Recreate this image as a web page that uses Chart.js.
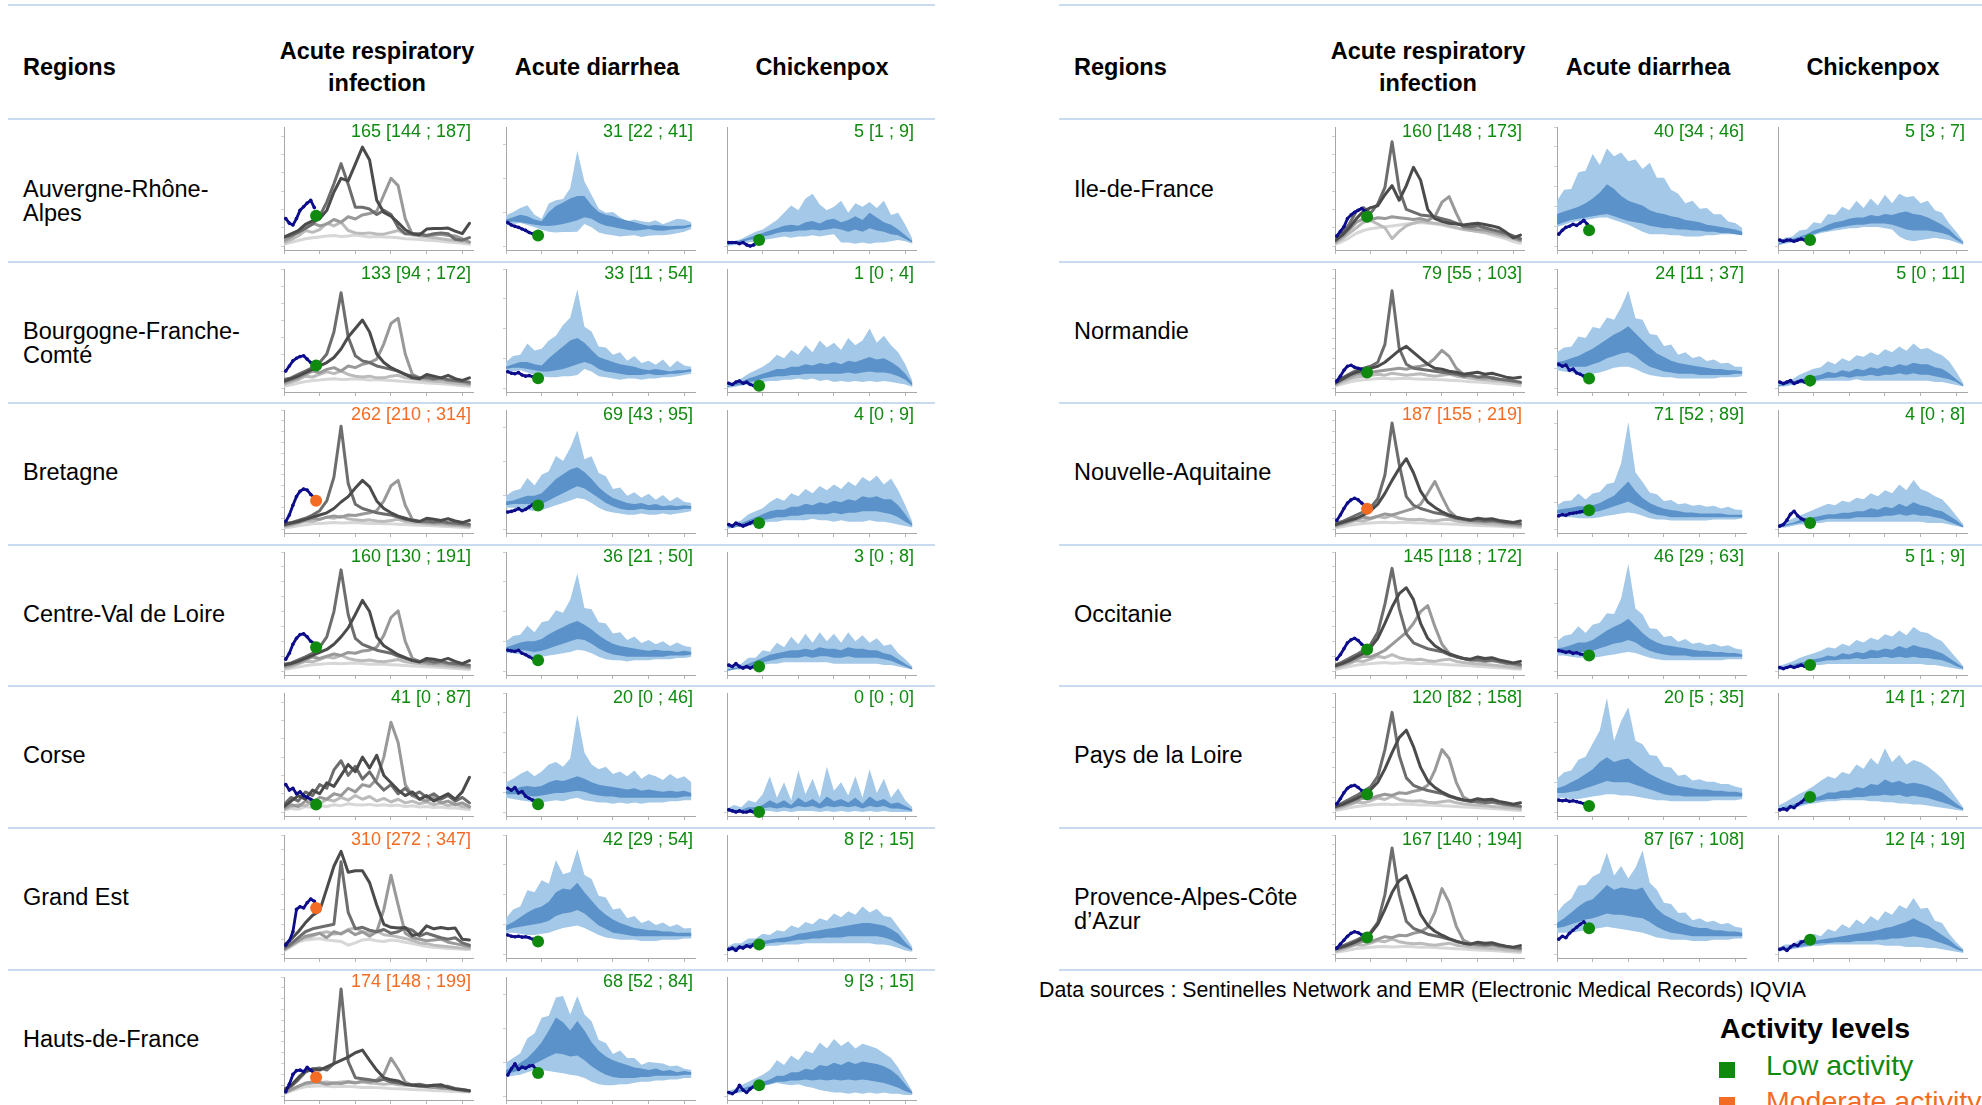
<!DOCTYPE html>
<html>
<head>
<meta charset="utf-8">
<script src="https://cdn.jsdelivr.net/npm/chart.js@4.4.1/dist/chart.umd.min.js"></script>
<style>
  html, body { margin: 0; padding: 0; background: #ffffff; }
  body { width: 1982px; height: 1105px; overflow: hidden; position: relative;
         font-family: "Liberation Sans", Arial, Helvetica, sans-serif; color: #000; }
  .rule { position: absolute; height: 2px; background: #c8dbef; }
  .hdr { position: absolute; font-weight: bold; font-size: 23.5px; line-height: 32px; text-align: center; white-space: pre; }
  .region { position: absolute; font-size: 23.5px; line-height: 24px; white-space: pre; }
  .val { position: absolute; font-size: 18px; line-height: 20px; text-align: right; white-space: nowrap; }
  canvas.mini { position: absolute; }
  .note { position: absolute; font-size: 21.3px; line-height: 24px; white-space: nowrap; }
  .legTitle { position: absolute; font-size: 28.5px; font-weight: bold; line-height: 32px; white-space: nowrap; }
  .legItem { position: absolute; font-size: 28.5px; line-height: 32px; white-space: nowrap; }
  .legBox { position: absolute; width: 16px; height: 16px; }
</style>
</head>
<body>
<script>
// ---------------------------------------------------------------------------
// Week positions (x axis): seasonal curves every two weeks, current season weekly
// ---------------------------------------------------------------------------
const WEEKS = [0, 2, 4, 6, 8, 10, 12, 14, 16, 18, 20, 22, 24, 26, 28, 30, 32, 34, 36, 38, 40, 42, 44, 46, 48, 50, 52];
const NOW_WEEKS = [0.5, 1.5, 2.5, 3.5, 4.5, 5.5, 6.5, 7.5, 8.5];
const LATEST_WEEK = 9;

const REGIONS = ["Auvergne-Rhône-\nAlpes", "Bourgogne-Franche-\nComté", "Bretagne", "Centre-Val de Loire",
  "Corse", "Grand Est", "Hauts-de-France", "Ile-de-France", "Normandie", "Nouvelle-Aquitaine",
  "Occitanie", "Pays de la Loire", "Provence-Alpes-Côte\nd’Azur"];
const DISEASES = ["Acute respiratory\ninfection", "Acute diarrhea", "Chickenpox"];

// Latest weekly incidence estimates [low ; high] per 100,000
const ARI_EST  = [165, 133, 262, 160, 41, 310, 174, 160, 79, 187, 145, 120, 167];
const ARI_LOW  = [144, 94, 210, 130, 0, 272, 148, 148, 55, 155, 118, 82, 140];
const ARI_HIGH = [187, 172, 314, 191, 87, 347, 199, 173, 103, 219, 172, 158, 194];
const ARI_LEVEL = ["low", "low", "moderate", "low", "low", "moderate", "moderate", "low", "low", "moderate", "low", "low", "low"];
const DIAR_EST  = [31, 33, 69, 36, 20, 42, 68, 40, 24, 71, 46, 20, 87];
const DIAR_LOW  = [22, 11, 43, 21, 0, 29, 52, 34, 11, 52, 29, 5, 67];
const DIAR_HIGH = [41, 54, 95, 50, 46, 54, 84, 46, 37, 89, 63, 35, 108];
const DIAR_LEVEL = ["low", "low", "low", "low", "low", "low", "low", "low", "low", "low", "low", "low", "low"];
const POX_EST  = [5, 1, 4, 3, 0, 8, 9, 5, 5, 4, 5, 14, 12];
const POX_LOW  = [1, 0, 0, 0, 0, 2, 3, 3, 0, 0, 1, 1, 4];
const POX_HIGH = [9, 4, 9, 8, 0, 15, 15, 7, 11, 8, 9, 27, 19];
const POX_LEVEL = ["low", "low", "low", "low", "low", "low", "low", "low", "low", "low", "low", "low", "low"];

// Upper bound of each small chart's value axis
const ARI_TOP  = [650, 700, 1100, 800, 650, 800, 1100, 650, 600, 1100, 800, 800, 1200];
const DIAR_TOP = [350, 400, 350, 400, 300, 400, 350, 300, 300, 450, 350, 400, 400];
const POX_TOP  = [100, 50, 80, 80, 100, 100, 100, 100, 80, 80, 100, 110, 100];

// ---------------------------------------------------------------------------
// Acute respiratory infection: five previous seasons (darkest to lightest) + current season
// ---------------------------------------------------------------------------
const ari_ARA = [
  [49, 67, 84, 119, 137, 149, 195, 295, 370, 356, 447, 540, 470, 250, 184, 163, 128, 89, 67, 61, 93, 96, 96, 98, 82, 68, 124],
  [49, 58, 75, 96, 119, 163, 240, 340, 450, 338, 212, 212, 202, 172, 195, 172, 102, 67, 67, 67, 58, 67, 72, 67, 37, 32, 46],
  [30, 50, 77, 100, 125, 110, 120, 145, 130, 160, 148, 170, 178, 190, 280, 370, 330, 150, 64, 60, 58, 60, 65, 58, 55, 40, 22],
  [18, 35, 55, 85, 75, 90, 125, 110, 130, 85, 72, 68, 72, 66, 65, 75, 85, 68, 60, 55, 50, 45, 40, 35, 30, 25, 20],
  [10, 20, 30, 40, 45, 50, 55, 58, 52, 55, 60, 55, 50, 52, 50, 48, 45, 40, 38, 36, 32, 30, 26, 22, 20, 15, 10]];
const ariNow_ARA = [150, 125, 115, 150, 195, 215, 235, 250, 210];

const ari_BFC = [
  [40, 55, 70, 90, 110, 130, 150, 180, 230, 300, 350, 400, 330, 200, 150, 120, 100, 80, 60, 55, 80, 70, 60, 75, 55, 45, 60],
  [50, 60, 80, 100, 120, 150, 200, 330, 560, 300, 190, 160, 150, 130, 120, 110, 100, 80, 70, 60, 65, 55, 60, 50, 45, 40, 35],
  [30, 45, 60, 80, 100, 90, 110, 120, 100, 130, 120, 140, 150, 170, 260, 380, 410, 200, 80, 60, 55, 50, 55, 45, 40, 35, 25],
  [20, 35, 50, 70, 65, 80, 95, 85, 100, 80, 70, 65, 70, 60, 60, 70, 75, 60, 55, 50, 45, 40, 38, 33, 28, 24, 20],
  [10, 20, 30, 38, 45, 48, 52, 55, 50, 52, 55, 52, 48, 50, 47, 45, 42, 38, 36, 34, 30, 28, 25, 22, 18, 14, 10]];
const ariNow_BFC = [100, 130, 160, 175, 185, 190, 170, 150, 140];

const ari_BRE = [
  [40, 55, 70, 90, 110, 130, 150, 190, 250, 300, 380, 450, 390, 260, 190, 150, 120, 100, 80, 70, 100, 90, 80, 95, 75, 60, 80],
  [50, 60, 80, 100, 130, 170, 260, 480, 950, 420, 230, 190, 170, 150, 140, 130, 110, 90, 80, 70, 75, 65, 70, 60, 55, 50, 45],
  [30, 45, 60, 80, 100, 90, 110, 120, 110, 130, 125, 140, 150, 170, 260, 400, 450, 220, 90, 70, 60, 55, 60, 50, 45, 40, 30],
  [20, 35, 55, 75, 70, 90, 110, 100, 120, 95, 85, 80, 85, 75, 70, 80, 90, 70, 60, 55, 50, 45, 42, 38, 32, 28, 22],
  [10, 20, 30, 40, 48, 52, 56, 60, 55, 58, 60, 56, 52, 54, 50, 48, 45, 42, 38, 36, 32, 30, 27, 24, 20, 16, 12]];
const ariNow_BRE = [70, 130, 220, 300, 350, 370, 360, 320, 290];

const ari_CVL = [
  [40, 50, 65, 85, 105, 125, 145, 180, 230, 290, 380, 475, 400, 230, 170, 140, 110, 90, 70, 60, 85, 80, 70, 85, 65, 50, 70],
  [45, 55, 75, 95, 120, 160, 230, 400, 680, 380, 220, 180, 160, 140, 130, 120, 100, 85, 75, 65, 70, 60, 65, 55, 50, 45, 40],
  [30, 40, 55, 75, 95, 85, 100, 115, 105, 125, 120, 135, 140, 160, 240, 360, 405, 200, 85, 65, 55, 50, 55, 45, 40, 35, 28],
  [18, 30, 48, 65, 62, 78, 95, 88, 105, 85, 75, 70, 75, 66, 62, 70, 78, 62, 55, 50, 45, 40, 37, 33, 28, 24, 20],
  [10, 18, 28, 36, 42, 46, 50, 53, 49, 52, 54, 50, 46, 48, 45, 43, 40, 37, 34, 32, 29, 27, 24, 21, 18, 14, 10]];
const ariNow_CVL = [80, 120, 180, 220, 245, 250, 230, 200, 185];

const ari_COR = [
  [30, 60, 90, 70, 120, 100, 160, 140, 200, 260, 220, 300, 240, 310, 200, 160, 120, 90, 110, 70, 90, 60, 80, 100, 70, 110, 190],
  [40, 80, 60, 110, 90, 150, 130, 230, 280, 200, 250, 180, 220, 160, 120, 150, 100, 130, 90, 110, 80, 100, 70, 90, 60, 80, 50],
  [20, 40, 30, 60, 50, 80, 70, 100, 90, 130, 110, 150, 140, 180, 300, 490, 380, 150, 90, 70, 60, 80, 50, 60, 40, 50, 30],
  [15, 30, 40, 35, 55, 45, 70, 60, 80, 65, 90, 70, 85, 60, 75, 55, 70, 50, 60, 45, 55, 40, 50, 35, 45, 30, 25],
  [10, 20, 15, 30, 25, 35, 30, 40, 35, 45, 40, 38, 42, 36, 40, 34, 38, 30, 34, 28, 30, 25, 28, 22, 24, 18, 14]];
const ariNow_COR = [150, 120, 130, 100, 110, 90, 80, 70, 60];

const ari_GES = [
  [60, 100, 150, 210, 260, 290, 440, 590, 690, 550, 560, 560, 480, 330, 200, 180, 175, 178, 125, 135, 190, 170, 178, 170, 175, 100, 95],
  [40, 70, 110, 150, 170, 180, 190, 200, 620, 280, 170, 180, 160, 150, 165, 140, 150, 175, 160, 120, 140, 125, 110, 100, 110, 75, 60],
  [30, 60, 90, 120, 130, 140, 110, 150, 135, 160, 130, 150, 120, 150, 300, 530, 330, 140, 110, 100, 90, 95, 100, 80, 70, 60, 50],
  [30, 60, 90, 110, 120, 140, 150, 135, 140, 165, 175, 150, 140, 155, 130, 125, 115, 105, 90, 75, 70, 60, 55, 50, 45, 40, 38],
  [20, 50, 80, 95, 100, 105, 95, 90, 85, 60, 75, 95, 100, 90, 85, 95, 90, 80, 70, 60, 50, 45, 42, 38, 35, 32, 30]];
const ariNow_GES = [60, 90, 150, 300, 318, 310, 345, 370, 355];

const ari_HDF = [
  [60, 100, 170, 230, 250, 240, 270, 300, 330, 360, 400, 425, 330, 240, 170, 150, 140, 110, 100, 95, 90, 100, 105, 80, 65, 58, 50],
  [50, 90, 150, 220, 250, 260, 240, 300, 990, 320, 170, 160, 150, 140, 155, 130, 120, 110, 105, 110, 95, 100, 85, 90, 70, 60, 50],
  [30, 60, 90, 120, 130, 125, 110, 120, 115, 130, 120, 140, 130, 150, 200, 350, 250, 130, 100, 90, 85, 80, 75, 70, 60, 50, 45],
  [30, 60, 90, 110, 120, 125, 130, 120, 130, 135, 125, 130, 120, 115, 110, 115, 105, 100, 95, 90, 85, 80, 75, 70, 62, 55, 50],
  [20, 45, 70, 85, 90, 95, 90, 85, 90, 88, 85, 80, 82, 78, 75, 70, 68, 65, 60, 58, 55, 50, 48, 45, 42, 40, 38]];
const ariNow_HDF = [40, 110, 200, 235, 240, 225, 265, 240, 210];

const ari_IDF = [
  [30, 60, 100, 150, 190, 210, 220, 280, 330, 250, 330, 430, 360, 200, 150, 135, 125, 120, 115, 120, 125, 118, 110, 100, 75, 45, 60],
  [40, 70, 120, 190, 210, 180, 230, 320, 570, 310, 200, 185, 170, 165, 160, 150, 140, 125, 110, 105, 110, 100, 90, 80, 70, 55, 40],
  [20, 50, 90, 130, 150, 145, 155, 150, 160, 155, 150, 145, 150, 140, 160, 240, 270, 180, 100, 95, 90, 88, 80, 70, 60, 45, 30],
  [15, 40, 70, 100, 130, 140, 120, 100, 40, 80, 110, 125, 135, 130, 125, 120, 110, 100, 90, 85, 80, 75, 70, 60, 50, 40, 30],
  [10, 25, 45, 70, 85, 95, 100, 105, 110, 115, 120, 125, 128, 125, 120, 115, 105, 100, 95, 88, 80, 72, 60, 50, 40, 25, 15]];
const ariNow_IDF = [55, 80, 105, 150, 170, 185, 195, 205, 190];

const ari_NOR = [
  [25, 45, 65, 80, 90, 100, 110, 130, 160, 190, 210, 180, 150, 120, 100, 95, 85, 80, 70, 75, 80, 70, 75, 65, 55, 50, 55],
  [30, 50, 70, 90, 100, 110, 130, 220, 490, 200, 120, 100, 95, 90, 85, 80, 75, 70, 60, 65, 55, 60, 50, 45, 40, 35, 30],
  [20, 40, 55, 70, 75, 80, 85, 90, 95, 100, 95, 105, 110, 120, 150, 190, 160, 100, 70, 60, 55, 50, 55, 45, 40, 35, 28],
  [15, 30, 45, 55, 60, 65, 70, 65, 75, 70, 65, 68, 72, 65, 60, 65, 70, 60, 55, 50, 45, 42, 38, 35, 30, 26, 22],
  [10, 20, 30, 38, 42, 45, 48, 50, 46, 48, 50, 47, 45, 46, 43, 42, 40, 38, 35, 32, 30, 28, 25, 22, 20, 16, 12]];
const ariNow_NOR = [35, 60, 90, 110, 115, 105, 100, 95, 90];

const ari_NAQ = [
  [40, 60, 80, 100, 130, 170, 230, 330, 450, 560, 650, 520, 350, 250, 200, 160, 130, 110, 95, 85, 100, 90, 95, 80, 70, 60, 75],
  [50, 70, 100, 130, 160, 200, 280, 500, 980, 600, 300, 220, 190, 170, 150, 140, 120, 100, 90, 80, 85, 75, 80, 70, 60, 55, 50],
  [30, 50, 70, 90, 110, 100, 120, 140, 130, 150, 170, 190, 230, 330, 440, 300, 170, 110, 90, 80, 70, 65, 70, 60, 50, 45, 38],
  [20, 40, 60, 80, 75, 95, 115, 105, 125, 100, 90, 85, 90, 80, 75, 85, 90, 75, 65, 60, 55, 50, 45, 40, 35, 30, 25],
  [12, 22, 35, 45, 52, 56, 60, 63, 58, 60, 62, 58, 55, 56, 52, 50, 47, 44, 40, 38, 34, 31, 28, 25, 22, 18, 14]];
const ariNow_NAQ = [80, 130, 190, 240, 270, 285, 270, 240, 210];

const ari_OCC = [
  [35, 50, 70, 95, 120, 160, 220, 320, 430, 520, 560, 480, 320, 220, 170, 140, 115, 100, 85, 80, 95, 85, 90, 75, 65, 55, 65],
  [40, 60, 85, 110, 140, 180, 260, 450, 690, 420, 250, 190, 170, 150, 140, 130, 110, 95, 85, 75, 80, 70, 75, 65, 55, 50, 45],
  [30, 45, 60, 80, 100, 95, 115, 140, 180, 220, 260, 320, 400, 440, 300, 180, 120, 95, 85, 75, 70, 65, 70, 60, 50, 45, 35],
  [20, 35, 50, 70, 65, 80, 100, 90, 110, 90, 80, 75, 80, 70, 65, 75, 80, 65, 58, 52, 48, 44, 40, 36, 30, 26, 22],
  [10, 20, 30, 40, 46, 50, 54, 57, 53, 55, 57, 53, 50, 52, 48, 46, 43, 40, 37, 35, 31, 29, 26, 23, 20, 16, 12]];
const ariNow_OCC = [80, 110, 150, 190, 210, 220, 205, 180, 160];

const ari_PDL = [
  [35, 50, 70, 90, 115, 150, 200, 290, 400, 500, 550, 440, 300, 210, 165, 135, 110, 95, 82, 76, 90, 82, 86, 72, 62, 52, 62],
  [40, 60, 85, 110, 140, 170, 240, 420, 670, 380, 230, 180, 160, 145, 135, 125, 105, 90, 80, 70, 75, 65, 70, 60, 52, 46, 40],
  [28, 42, 58, 76, 95, 90, 108, 120, 112, 130, 125, 140, 150, 180, 280, 420, 360, 200, 100, 75, 65, 60, 65, 55, 48, 42, 34],
  [18, 32, 48, 66, 62, 76, 95, 85, 105, 85, 76, 72, 76, 66, 62, 70, 76, 62, 55, 50, 46, 42, 38, 34, 29, 25, 20],
  [10, 18, 28, 37, 43, 47, 51, 54, 50, 52, 54, 50, 47, 49, 45, 43, 40, 37, 34, 32, 29, 27, 24, 21, 18, 14, 10]];
const ariNow_PDL = [55, 90, 130, 160, 175, 180, 165, 145, 130];

const ari_PAC = [
  [50, 70, 95, 125, 160, 210, 300, 450, 620, 740, 790, 600, 400, 290, 230, 190, 155, 130, 110, 100, 120, 110, 115, 95, 80, 70, 85],
  [55, 80, 110, 140, 175, 220, 320, 600, 1070, 600, 330, 260, 230, 200, 185, 170, 150, 125, 110, 100, 105, 95, 100, 85, 75, 65, 60],
  [40, 60, 80, 105, 130, 125, 150, 175, 165, 190, 185, 210, 225, 270, 420, 660, 520, 280, 140, 105, 90, 85, 90, 75, 65, 58, 48],
  [25, 45, 70, 95, 90, 110, 135, 125, 150, 125, 112, 105, 110, 97, 90, 100, 110, 90, 80, 72, 66, 60, 55, 50, 42, 36, 30],
  [15, 28, 42, 55, 62, 68, 73, 77, 72, 75, 78, 73, 68, 70, 65, 62, 58, 54, 50, 47, 42, 39, 35, 31, 27, 22, 17]];
const ariNow_PAC = [60, 100, 140, 180, 210, 225, 215, 195, 180];

// ---------------------------------------------------------------------------
// Acute diarrhea: expected range [outer high, outer low, inner high, inner low] + current season
// ---------------------------------------------------------------------------
const diar_ARA = [
  [90, 100, 112, 120, 92, 80, 125, 135, 138, 170, 280, 190, 150, 110, 98, 100, 85, 73, 78, 73, 70, 76, 64, 72, 80, 78, 69],
  [60, 65, 68, 62, 55, 48, 42, 40, 41, 41, 42, 65, 55, 40, 35, 32, 28, 30, 32, 27, 30, 32, 32, 34, 38, 42, 50],
  [78, 85, 92, 88, 78, 73, 100, 118, 128, 140, 147, 147, 120, 100, 92, 88, 80, 75, 70, 64, 60, 62, 60, 58, 60, 60, 64],
  [70, 72, 70, 66, 63, 60, 59, 61, 65, 70, 76, 85, 80, 68, 60, 56, 52, 48, 45, 47, 50, 46, 45, 48, 50, 52, 58]];
const diarNow_ARA = [69, 62, 58, 55, 50, 46, 40, 36, 33];

const diar_BFC = [
  [88, 108, 112, 150, 126, 132, 160, 176, 212, 236, 332, 206, 190, 140, 136, 112, 120, 92, 108, 84, 92, 78, 96, 70, 92, 76, 72],
  [52, 56, 60, 52, 44, 40, 36, 36, 40, 40, 44, 64, 56, 40, 36, 32, 28, 32, 32, 28, 32, 32, 36, 36, 40, 44, 48],
  [72, 80, 88, 88, 80, 76, 100, 120, 140, 160, 168, 152, 128, 104, 96, 88, 80, 76, 72, 64, 60, 64, 60, 56, 60, 60, 64],
  [64, 68, 68, 64, 60, 56, 56, 60, 64, 72, 80, 88, 80, 64, 56, 52, 48, 44, 44, 44, 48, 44, 44, 48, 48, 52, 56]];
const diarNow_BFC = [55, 50, 48, 52, 44, 40, 42, 38, 35];

const diar_BRE = [
  [98, 112, 118, 150, 128, 160, 170, 215, 200, 238, 290, 205, 214, 165, 155, 118, 122, 98, 108, 92, 104, 86, 100, 82, 94, 80, 77],
  [63, 63, 60, 56, 53, 56, 63, 70, 77, 84, 91, 88, 77, 63, 53, 49, 46, 42, 42, 46, 42, 42, 46, 42, 46, 49, 53],
  [81, 84, 91, 98, 98, 105, 126, 147, 161, 175, 182, 168, 147, 123, 105, 91, 84, 77, 74, 77, 70, 74, 67, 70, 67, 70, 67],
  [70, 74, 74, 74, 70, 74, 84, 95, 105, 116, 126, 119, 105, 91, 77, 67, 60, 56, 56, 60, 56, 56, 56, 56, 56, 60, 60]];
const diarNow_BRE = [50, 52, 55, 60, 54, 58, 65, 72, 70];

const diar_CVL = [
  [100, 118, 122, 152, 130, 164, 170, 204, 196, 240, 328, 212, 208, 164, 160, 126, 130, 104, 116, 94, 104, 90, 100, 84, 96, 84, 80],
  [60, 60, 56, 52, 48, 48, 52, 56, 60, 64, 72, 68, 60, 48, 40, 36, 36, 32, 36, 36, 36, 40, 40, 40, 44, 44, 48],
  [80, 88, 96, 100, 100, 108, 124, 136, 148, 160, 168, 156, 140, 120, 104, 92, 84, 80, 76, 72, 68, 72, 68, 68, 64, 68, 64],
  [68, 72, 72, 68, 64, 68, 76, 84, 92, 100, 108, 104, 92, 76, 64, 56, 52, 48, 48, 48, 48, 48, 48, 52, 52, 52, 56]];
const diarNow_CVL = [70, 68, 66, 70, 60, 55, 48, 42, 38];

const diar_COR = [
  [75, 84, 96, 105, 90, 102, 120, 126, 114, 135, 246, 150, 120, 108, 114, 96, 102, 90, 105, 84, 96, 90, 81, 96, 84, 90, 75],
  [36, 33, 30, 27, 24, 24, 27, 30, 27, 33, 36, 30, 27, 24, 24, 21, 24, 21, 24, 21, 24, 24, 24, 27, 27, 30, 30],
  [54, 57, 63, 66, 63, 66, 75, 81, 78, 84, 90, 84, 75, 69, 66, 63, 60, 57, 60, 54, 57, 54, 51, 54, 51, 54, 48],
  [45, 45, 45, 42, 39, 42, 45, 48, 48, 51, 54, 51, 45, 42, 39, 39, 36, 36, 36, 36, 36, 36, 36, 36, 36, 39, 39]];
const diarNow_COR = [60, 55, 62, 48, 52, 40, 35, 30, 25];

const diar_GES = [
  [120, 150, 160, 214, 208, 248, 236, 316, 268, 276, 352, 266, 252, 196, 190, 150, 154, 120, 128, 104, 114, 98, 106, 92, 100, 86, 88],
  [72, 72, 68, 64, 64, 68, 72, 80, 88, 92, 96, 88, 76, 64, 56, 52, 48, 48, 48, 44, 44, 44, 48, 48, 48, 52, 52],
  [96, 108, 124, 140, 152, 160, 176, 208, 220, 216, 240, 208, 180, 152, 132, 116, 104, 96, 88, 84, 80, 80, 76, 76, 72, 72, 72],
  [80, 88, 92, 96, 100, 104, 112, 128, 136, 140, 148, 136, 116, 96, 84, 72, 68, 64, 60, 60, 60, 60, 60, 60, 60, 60, 60]];
const diarNow_GES = [64, 60, 58, 60, 57, 58, 55, 50, 46];

const diar_HDF = [
  [98, 112, 126, 170, 184, 230, 236, 290, 294, 240, 294, 240, 220, 165, 156, 124, 134, 112, 112, 92, 100, 98, 96, 88, 90, 80, 77],
  [56, 60, 63, 70, 77, 77, 74, 70, 67, 63, 60, 53, 42, 35, 32, 32, 35, 35, 39, 42, 42, 46, 46, 49, 49, 53, 53],
  [77, 84, 98, 112, 133, 158, 193, 231, 217, 193, 221, 193, 158, 133, 116, 105, 98, 91, 84, 81, 77, 81, 74, 77, 70, 74, 70],
  [67, 70, 77, 84, 95, 105, 116, 126, 123, 116, 119, 105, 88, 74, 63, 56, 53, 53, 53, 56, 56, 60, 60, 60, 60, 63, 63]];
const diarNow_HDF = [62, 80, 95, 78, 85, 82, 88, 90, 78];

const diar_IDF = [
  [114, 142, 144, 186, 190, 232, 204, 246, 226, 236, 214, 218, 194, 210, 172, 172, 142, 132, 108, 114, 94, 96, 80, 80, 62, 58, 45],
  [48, 54, 60, 63, 66, 69, 72, 72, 66, 60, 54, 45, 36, 30, 30, 30, 27, 27, 24, 24, 24, 27, 27, 30, 30, 30, 27],
  [81, 87, 93, 99, 108, 120, 135, 156, 144, 126, 114, 108, 102, 90, 84, 81, 75, 72, 66, 63, 60, 54, 51, 48, 45, 42, 36],
  [54, 60, 66, 69, 72, 75, 78, 81, 75, 69, 63, 60, 57, 51, 48, 45, 45, 42, 42, 39, 39, 36, 36, 33, 33, 30, 27]];
const diarNow_IDF = [30, 40, 47, 50, 55, 52, 58, 65, 55];

const diar_NOR = [
  [90, 102, 104, 130, 126, 154, 150, 178, 172, 204, 246, 176, 172, 136, 134, 106, 110, 84, 90, 76, 80, 68, 72, 62, 64, 54, 54],
  [45, 42, 39, 36, 33, 36, 39, 45, 51, 54, 54, 48, 39, 33, 30, 27, 27, 24, 24, 24, 24, 24, 24, 27, 27, 27, 30],
  [66, 69, 75, 81, 90, 99, 111, 123, 135, 144, 156, 138, 120, 102, 87, 78, 69, 63, 60, 57, 54, 51, 48, 48, 45, 45, 42],
  [54, 54, 54, 54, 54, 60, 66, 75, 81, 87, 90, 81, 66, 54, 48, 42, 39, 36, 36, 36, 33, 33, 33, 33, 33, 36, 36]];
const diarNow_NOR = [60, 55, 58, 45, 48, 38, 35, 30, 27];

const diar_NAQ = [
  [90, 106, 108, 134, 112, 134, 140, 170, 176, 250, 405, 215, 178, 138, 132, 106, 110, 94, 98, 88, 92, 84, 88, 78, 84, 74, 72],
  [50, 45, 45, 41, 41, 41, 45, 50, 54, 59, 63, 59, 50, 41, 36, 36, 32, 32, 32, 32, 32, 32, 36, 36, 36, 36, 41],
  [72, 77, 81, 86, 86, 90, 99, 113, 126, 153, 180, 144, 117, 99, 86, 77, 72, 68, 63, 63, 59, 59, 59, 59, 54, 54, 54],
  [59, 59, 59, 59, 59, 63, 68, 77, 86, 95, 104, 90, 77, 63, 54, 50, 45, 45, 45, 45, 45, 45, 45, 45, 45, 45, 45]];
const diarNow_NAQ = [50, 55, 52, 58, 60, 62, 65, 68, 70];

const diar_OCC = [
  [88, 104, 108, 132, 112, 136, 142, 170, 168, 214, 315, 184, 166, 126, 124, 100, 104, 86, 94, 80, 84, 76, 80, 72, 76, 66, 63],
  [46, 46, 42, 39, 39, 39, 42, 46, 49, 53, 56, 53, 46, 39, 35, 32, 32, 32, 32, 32, 32, 32, 32, 32, 35, 35, 35],
  [67, 70, 77, 84, 84, 91, 105, 119, 130, 140, 154, 133, 112, 95, 84, 77, 74, 70, 67, 63, 60, 60, 56, 56, 53, 53, 49],
  [56, 56, 56, 56, 56, 60, 67, 74, 81, 84, 91, 84, 70, 60, 53, 49, 46, 46, 46, 42, 42, 42, 42, 42, 42, 42, 42]];
const diarNow_OCC = [60, 58, 55, 57, 52, 54, 50, 48, 47];

const diar_PDL = [
  [112, 134, 140, 176, 186, 230, 274, 384, 240, 306, 352, 240, 228, 192, 188, 152, 150, 122, 126, 106, 110, 102, 102, 94, 94, 86, 80],
  [48, 48, 44, 44, 48, 52, 56, 60, 60, 56, 56, 52, 48, 44, 40, 40, 36, 36, 36, 36, 36, 36, 40, 40, 40, 40, 44],
  [80, 88, 100, 112, 128, 144, 168, 184, 168, 176, 180, 160, 144, 128, 116, 104, 96, 88, 84, 80, 76, 76, 72, 72, 68, 68, 64],
  [64, 64, 68, 72, 80, 88, 96, 104, 100, 100, 100, 92, 84, 76, 68, 60, 56, 56, 52, 52, 52, 52, 52, 52, 52, 52, 52]];
const diarNow_PDL = [40, 38, 40, 36, 38, 35, 32, 28, 24];

const diar_PAC = [
  [140, 168, 186, 230, 232, 260, 272, 340, 264, 296, 254, 290, 348, 240, 216, 172, 168, 138, 140, 114, 120, 108, 112, 100, 104, 92, 88],
  [72, 72, 72, 76, 80, 84, 88, 92, 88, 84, 80, 76, 72, 64, 56, 52, 48, 48, 48, 44, 44, 44, 48, 48, 48, 52, 52],
  [104, 120, 140, 160, 176, 184, 208, 232, 216, 224, 220, 216, 224, 184, 152, 132, 120, 108, 100, 92, 88, 88, 80, 80, 76, 76, 72],
  [88, 92, 100, 108, 116, 120, 128, 136, 132, 132, 128, 124, 120, 108, 92, 80, 72, 68, 64, 60, 60, 60, 60, 60, 60, 60, 60]];
const diarNow_PAC = [50, 60, 55, 70, 80, 90, 100, 108, 95];

// ---------------------------------------------------------------------------
// Chickenpox: expected range [outer high, outer low, inner high, inner low] + current season
// ---------------------------------------------------------------------------
const pox_ARA = [
  [3, 4, 6, 9, 12, 14, 18, 22, 28, 34, 30, 40, 44, 35, 30, 33, 38, 28, 36, 33, 37, 32, 38, 26, 28, 18, 6],
  [0, 1, 2, 3, 4, 5, 6, 7, 8, 7, 8, 8, 9, 8, 9, 10, 3, 3, 2, 3, 2, 3, 3, 4, 5, 4, 2],
  [2, 3, 5, 7, 9, 11, 13, 15, 17, 18, 17, 20, 21, 19, 22, 23, 20, 22, 25, 22, 28, 24, 20, 18, 14, 9, 4],
  [1, 2, 3, 5, 6, 8, 9, 11, 12, 12, 13, 13, 14, 13, 14, 15, 14, 12, 14, 12, 15, 13, 12, 10, 9, 6, 3]];
const poxNow_ARA = [3, 3, 3, 2, 3, 1, 0, 1, 3];

const pox_BFC = [
  [1.5, 2.5, 4, 6, 7.5, 9, 11, 14, 12.5, 16, 14, 18, 15, 20, 17, 19, 16, 21, 18, 20, 25, 19, 22, 18, 15, 10, 3],
  [0, 0.5, 1, 1.5, 2, 2.5, 3, 3, 3.5, 3.5, 4, 3.5, 4, 3, 3.5, 2.5, 3, 2.5, 3, 2.5, 3, 2.5, 3, 2.5, 2, 1.5, 0.5],
  [1, 1.5, 2.5, 4, 5, 6, 7, 8, 8, 9, 9, 10, 9.5, 10.5, 10, 11, 10, 11.5, 11, 12, 13, 12, 12.5, 11, 9, 6, 2],
  [0.5, 1, 1.5, 2.5, 3, 4, 4.5, 5, 5, 5.5, 5.5, 6, 6, 6, 6, 6, 6, 6.5, 6, 6.5, 7, 6.5, 6.5, 6, 5, 3.5, 1]];
const poxNow_BFC = [2, 1.5, 2.5, 3, 2, 2.5, 1.5, 1, 1.5];

const pox_BRE = [
  [2, 4, 6, 10, 12, 14, 18, 21, 19, 24, 22, 27, 24, 29, 26, 30, 27, 32, 29, 35, 32, 36, 30, 34, 26, 16, 5],
  [0, 1, 2, 2, 3, 4, 5, 5, 6, 6, 6, 6, 7, 6, 6, 5, 6, 5, 5, 5, 6, 5, 5, 4, 3, 2, 1],
  [1, 2, 4, 6, 8, 10, 12, 13, 13, 15, 15, 17, 16, 18, 17, 19, 18, 20, 19, 22, 21, 22, 20, 20, 16, 10, 3],
  [1, 1, 2, 4, 5, 6, 7, 8, 8, 9, 9, 10, 10, 10, 10, 11, 10, 11, 11, 12, 12, 12, 11, 10, 8, 5, 2]];
const poxNow_BRE = [3, 2, 4, 3, 2, 3, 4, 5, 4];

const pox_CVL = [
  [2, 4, 5, 9, 9, 14, 13, 19, 16, 23, 18, 25, 19, 26, 20, 25, 19, 26, 20, 24, 19, 22, 17, 18, 12, 8, 3],
  [0, 1, 1, 2, 3, 4, 5, 5, 6, 6, 6, 6, 6, 6, 6, 5, 5, 5, 5, 5, 5, 5, 4, 4, 3, 2, 1],
  [1, 2, 3, 5, 7, 9, 11, 12, 13, 14, 14, 15, 14, 16, 15, 15, 14, 16, 15, 15, 14, 14, 12, 11, 8, 5, 2],
  [0, 1, 2, 3, 4, 6, 7, 8, 9, 9, 9, 10, 9, 10, 10, 9, 9, 10, 9, 9, 9, 9, 8, 7, 5, 3, 1]];
const poxNow_CVL = [4, 3, 5, 3, 2, 3, 2, 3, 3];

const pox_COR = [
  [3, 6, 4, 10, 8, 15, 30, 12, 25, 10, 35, 15, 28, 12, 38, 18, 25, 14, 30, 12, 36, 16, 28, 12, 20, 10, 4],
  [0, 0, 0, 0, 0, 1, 1, 0, 1, 0, 1, 1, 1, 0, 1, 0, 1, 0, 1, 0, 1, 0, 1, 0, 0, 0, 0],
  [1, 2, 2, 4, 4, 6, 10, 7, 10, 6, 12, 8, 11, 7, 13, 9, 11, 8, 12, 7, 13, 9, 11, 7, 8, 5, 2],
  [0, 1, 1, 2, 2, 3, 4, 3, 4, 3, 5, 4, 5, 3, 5, 4, 5, 4, 5, 3, 5, 4, 5, 3, 3, 2, 1]];
const poxNow_COR = [2, 1, 0, 1, 0, 0, 1, 0, 0];

const pox_GES = [
  [6, 9, 9, 13, 13, 17, 16, 20, 19, 24, 22, 27, 25, 30, 28, 34, 31, 36, 33, 40, 35, 38, 32, 31, 23, 15, 6],
  [2, 3, 4, 5, 6, 6, 7, 7, 8, 8, 8, 9, 9, 9, 9, 9, 9, 9, 9, 9, 9, 8, 8, 7, 5, 3, 2],
  [4, 6, 7, 9, 10, 11, 12, 13, 14, 15, 17, 18, 19, 20, 21, 22, 23, 24, 25, 26, 26, 25, 24, 21, 17, 10, 4],
  [3, 4, 5, 6, 7, 8, 9, 10, 10, 11, 12, 12, 13, 13, 14, 14, 14, 15, 15, 15, 15, 15, 14, 12, 9, 6, 3]];
const poxNow_GES = [4, 5, 3, 6, 5, 7, 6, 8, 7];

const pox_HDF = [
  [4, 6, 9, 12, 15, 18, 22, 30, 26, 34, 30, 38, 36, 45, 40, 48, 42, 46, 40, 44, 42, 40, 36, 32, 24, 14, 4],
  [1, 2, 3, 5, 7, 8, 10, 11, 10, 9, 10, 8, 7, 5, 4, 3, 3, 2, 3, 2, 3, 2, 3, 2, 2, 1, 1],
  [3, 4, 6, 8, 10, 12, 14, 17, 17, 20, 20, 23, 22, 26, 25, 28, 26, 29, 27, 29, 28, 27, 25, 22, 17, 10, 3],
  [2, 3, 4, 6, 7, 9, 10, 12, 12, 13, 13, 14, 13, 14, 13, 14, 13, 14, 13, 14, 13, 12, 11, 9, 7, 4, 2]];
const poxNow_HDF = [3, 2, 4, 9, 5, 3, 6, 8, 7];

const pox_IDF = [
  [3, 7, 8, 13, 14, 20, 19, 27, 26, 33, 30, 38, 32, 40, 34, 43, 36, 44, 41, 42, 36, 38, 30, 28, 19, 12, 4],
  [1, 2, 3, 5, 7, 9, 11, 12, 13, 14, 15, 15, 16, 16, 16, 15, 14, 8, 5, 4, 5, 6, 7, 6, 5, 3, 1],
  [2, 4, 6, 8, 10, 13, 15, 18, 20, 21, 23, 24, 24, 26, 25, 27, 26, 28, 29, 27, 26, 24, 21, 18, 14, 8, 3],
  [1, 3, 4, 6, 8, 10, 12, 13, 15, 16, 17, 18, 18, 19, 19, 19, 18, 16, 14, 13, 13, 13, 12, 11, 9, 5, 2]];
const poxNow_IDF = [5, 4, 5, 5, 4, 5, 6, 5, 5];

const pox_NOR = [
  [3, 5, 6, 9, 11, 13, 14, 18, 16, 20, 18, 22, 21, 24, 22, 26, 24, 28, 25, 30, 26, 27, 24, 22, 18, 11, 3],
  [1, 1, 2, 3, 3, 4, 5, 5, 5, 5, 5, 6, 5, 5, 5, 5, 5, 5, 5, 5, 5, 5, 4, 4, 3, 2, 1],
  [2, 3, 4, 6, 7, 8, 9, 11, 10, 12, 11, 13, 12, 14, 13, 15, 14, 16, 15, 17, 16, 16, 14, 13, 10, 6, 2],
  [1, 2, 3, 4, 5, 5, 6, 7, 7, 8, 7, 8, 8, 9, 8, 9, 9, 10, 9, 10, 9, 9, 8, 7, 6, 4, 1]];
const poxNow_NOR = [4, 3, 4, 5, 3, 4, 5, 4, 5];

const pox_NAQ = [
  [3, 5, 7, 9, 11, 13, 15, 17, 16, 19, 18, 21, 20, 24, 22, 26, 24, 30, 26, 33, 27, 25, 22, 20, 15, 9, 3],
  [1, 1, 2, 3, 3, 4, 4, 5, 5, 5, 5, 5, 5, 5, 5, 5, 5, 5, 5, 5, 5, 4, 4, 4, 3, 2, 1],
  [2, 3, 4, 6, 7, 8, 9, 10, 10, 11, 11, 12, 12, 14, 13, 15, 14, 17, 15, 18, 16, 15, 13, 12, 9, 6, 2],
  [1, 2, 3, 4, 5, 5, 6, 7, 7, 7, 7, 8, 8, 8, 8, 9, 9, 10, 9, 10, 9, 9, 8, 7, 5, 3, 1]];
const poxNow_NAQ = [2, 3, 6, 10, 12, 9, 7, 6, 5];

const pox_OCC = [
  [4, 6, 8, 11, 13, 15, 17, 20, 19, 23, 21, 26, 24, 28, 26, 31, 29, 34, 30, 37, 33, 32, 28, 25, 18, 11, 4],
  [1, 2, 3, 3, 4, 5, 5, 6, 6, 6, 6, 6, 6, 6, 6, 6, 6, 6, 6, 6, 6, 5, 5, 4, 3, 2, 1],
  [2, 4, 5, 7, 8, 10, 11, 13, 12, 15, 14, 16, 15, 18, 17, 19, 18, 21, 19, 22, 20, 19, 17, 15, 11, 7, 3],
  [1, 3, 4, 5, 6, 7, 8, 9, 9, 10, 10, 11, 10, 11, 11, 12, 11, 12, 11, 12, 11, 11, 10, 9, 7, 4, 2]];
const poxNow_OCC = [3, 2, 3, 4, 3, 4, 5, 4, 5];

const pox_PDL = [
  [6, 9, 13, 17, 20, 24, 29, 33, 31, 37, 35, 44, 40, 50, 44, 59, 46, 53, 44, 48, 46, 42, 37, 31, 22, 13, 4],
  [1, 2, 4, 5, 7, 8, 9, 10, 10, 11, 11, 11, 11, 10, 10, 9, 9, 8, 8, 7, 7, 6, 5, 4, 3, 2, 1],
  [3, 5, 7, 9, 11, 13, 15, 18, 18, 20, 20, 23, 22, 26, 25, 30, 27, 29, 26, 27, 26, 24, 21, 18, 13, 8, 3],
  [2, 3, 5, 7, 8, 10, 11, 12, 12, 13, 13, 14, 14, 15, 15, 16, 15, 16, 14, 15, 14, 13, 11, 9, 7, 4, 2]];
const poxNow_PDL = [2, 3, 2, 5, 4, 7, 9, 12, 13];

const pox_PAC = [
  [5, 8, 8, 12, 12, 17, 15, 21, 19, 25, 22, 29, 25, 32, 28, 36, 33, 41, 38, 47, 38, 39, 28, 26, 17, 10, 4],
  [2, 3, 4, 5, 6, 7, 7, 8, 8, 8, 8, 8, 8, 8, 8, 7, 7, 7, 6, 6, 6, 5, 5, 4, 3, 2, 1],
  [4, 5, 7, 8, 10, 11, 12, 13, 14, 15, 16, 17, 18, 19, 20, 22, 23, 25, 27, 30, 27, 24, 20, 16, 12, 7, 3],
  [3, 4, 5, 6, 7, 8, 9, 9, 10, 10, 10, 11, 11, 11, 12, 12, 13, 13, 14, 15, 14, 13, 11, 9, 7, 4, 2]];
const poxNow_PAC = [4, 5, 3, 6, 8, 7, 10, 11, 12];

const ARI_SERIES = [ari_ARA, ari_BFC, ari_BRE, ari_CVL, ari_COR, ari_GES, ari_HDF, ari_IDF, ari_NOR, ari_NAQ, ari_OCC, ari_PDL, ari_PAC];
const ARI_NOW = [ariNow_ARA, ariNow_BFC, ariNow_BRE, ariNow_CVL, ariNow_COR, ariNow_GES, ariNow_HDF, ariNow_IDF, ariNow_NOR, ariNow_NAQ, ariNow_OCC, ariNow_PDL, ariNow_PAC];
const DIAR_SERIES = [diar_ARA, diar_BFC, diar_BRE, diar_CVL, diar_COR, diar_GES, diar_HDF, diar_IDF, diar_NOR, diar_NAQ, diar_OCC, diar_PDL, diar_PAC];
const DIAR_NOW = [diarNow_ARA, diarNow_BFC, diarNow_BRE, diarNow_CVL, diarNow_COR, diarNow_GES, diarNow_HDF, diarNow_IDF, diarNow_NOR, diarNow_NAQ, diarNow_OCC, diarNow_PDL, diarNow_PAC];
const POX_SERIES = [pox_ARA, pox_BFC, pox_BRE, pox_CVL, pox_COR, pox_GES, pox_HDF, pox_IDF, pox_NOR, pox_NAQ, pox_OCC, pox_PDL, pox_PAC];
const POX_NOW = [poxNow_ARA, poxNow_BFC, poxNow_BRE, poxNow_CVL, poxNow_COR, poxNow_GES, poxNow_HDF, poxNow_IDF, poxNow_NOR, poxNow_NAQ, poxNow_OCC, poxNow_PDL, poxNow_PAC];

// ---------------------------------------------------------------------------
// Styling and layout
// ---------------------------------------------------------------------------
const SEASON_COLORS = ["#4b4b4b", "#6d6d6d", "#999999", "#bbbbbb", "#d7d7d7"];
const BAND_OUTER = "#a4c8e7";
const BAND_INNER = "#5b92c9";
const CURRENT_COLOR = "#0d0d8c";
const LEVEL_COLORS = { low: "#0f8a0f", moderate: "#f46c23" };

const ROW_TOP0 = 120, ROW_H = 141.6, ROWS_PER_TABLE = 7;
const AXIS_X = [284, 506, 727];
const TABLE_SHIFT = 1051;
const PLOT_W = 189, PLOT_H = 127;

function el(tag, cls, style, text) {
  const e = document.createElement(tag);
  if (cls) e.className = cls;
  Object.assign(e.style, style);
  if (text !== undefined) e.textContent = text;
  document.body.appendChild(e);
  return e;
}

function pts(xs, ys) { return ys.map((y, i) => ({ x: xs[i], y })); }

function miniChart(left, top, yTop, datasets, tickLimit) {
  const cv = document.createElement("canvas");
  cv.className = "mini";
  cv.width = PLOT_W + 12; cv.height = PLOT_H + 8;
  cv.style.left = left + "px"; cv.style.top = top + "px";
  cv.style.width = (PLOT_W + 12) + "px"; cv.style.height = (PLOT_H + 8) + "px";
  document.body.appendChild(cv);
  new Chart(cv, {
    type: "line",
    data: { datasets },
    options: {
      responsive: false, animation: false, events: [], devicePixelRatio: 1,
      layout: { padding: { top: 2, right: 6, left: 0, bottom: 0 } },
      plugins: { legend: { display: false }, tooltip: { enabled: false } },
      elements: { line: { tension: 0, borderCapStyle: "round", borderJoinStyle: "round" }, point: { radius: 0 } },
      scales: {
        x: {
          type: "linear", min: 0, max: 53,
          afterFit(s) { s.height = 6; },
          ticks: { display: false, stepSize: 10, includeBounds: false },
          grid: { drawOnChartArea: false, drawTicks: true, tickLength: 4, color: "#b5b5b5" },
          border: { display: true, color: "#a8a8a8", width: 1 }
        },
        y: {
          min: -yTop * 0.033, max: yTop,
          afterFit(s) { s.width = 6; },
          ticks: { display: false, includeBounds: false, maxTicksLimit: tickLimit, font: { size: 6 } },
          grid: { drawOnChartArea: false, drawTicks: true, tickLength: 3, color: "#cfcfcf" },
          border: { display: true, color: "#a8a8a8", width: 1 }
        }
      }
    }
  });
}

function currentSets(values, est, level) {
  return [
    { data: [{ x: LATEST_WEEK, y: est }], showLine: false, pointRadius: 6, pointHoverRadius: 6,
      pointBackgroundColor: LEVEL_COLORS[level], pointBorderWidth: 0, order: 0, clip: false },
    { data: pts(NOW_WEEKS, values), borderColor: CURRENT_COLOR, borderWidth: 2.8, pointRadius: 1.8,
      pointBackgroundColor: CURRENT_COLOR, pointBorderWidth: 0, fill: false, order: 1 }
  ];
}

function seasonChart(left, top, k) {
  const sets = currentSets(ARI_NOW[k], ARI_EST[k], ARI_LEVEL[k]);
  ARI_SERIES[k].forEach((s, i) => sets.push({
    data: pts(WEEKS, s), borderColor: SEASON_COLORS[i], borderWidth: 3, fill: false, order: 2 + i
  }));
  miniChart(left, top, ARI_TOP[k], sets, 14);
}

function bandChart(left, top, band, now, est, level, yTop, tickLimit) {
  const sets = currentSets(now, est, level);
  // indices: 2 inner high, 3 inner low, 4 outer high, 5 outer low
  sets.push({ data: pts(WEEKS, band[2]), borderWidth: 0, borderColor: "rgba(0,0,0,0)", backgroundColor: BAND_INNER, fill: 3, order: 2 });
  sets.push({ data: pts(WEEKS, band[3]), borderWidth: 0, borderColor: "rgba(0,0,0,0)", fill: false, order: 3 });
  sets.push({ data: pts(WEEKS, band[0]), borderWidth: 0, borderColor: "rgba(0,0,0,0)", backgroundColor: BAND_OUTER, fill: 5, order: 4 });
  sets.push({ data: pts(WEEKS, band[1]), borderWidth: 0, borderColor: "rgba(0,0,0,0)", fill: false, order: 5 });
  miniChart(left, top, yTop, sets, tickLimit);
}

function valueLabel(axisX, rowTop, est, lo, hi, level) {
  el("div", "val", { left: (axisX - 30) + "px", top: Math.round(rowTop + 1) + "px", width: "217px", color: LEVEL_COLORS[level] },
     `${est} [${lo} ; ${hi}]`);
}

// table frames, headers and rules
[0, 1].forEach(t => {
  const ox = t * TABLE_SHIFT;
  const x0 = t === 0 ? 8 : 1059, x1 = t === 0 ? 935 : 1982;
  const nRows = t === 0 ? 7 : 6;
  el("div", "rule", { left: x0 + "px", top: "4px", width: (x1 - x0) + "px" });
  el("div", "rule", { left: x0 + "px", top: "118px", width: (x1 - x0) + "px" });
  for (let r = 1; r <= nRows; r++) {
    el("div", "rule", { left: x0 + "px", top: Math.round(ROW_TOP0 + ROW_H * r - 1) + "px", width: (x1 - x0) + "px" });
  }
  el("div", "hdr", { left: (23 + ox) + "px", top: "51px", textAlign: "left" }, "Regions");
  el("div", "hdr", { left: (377 + ox - 150) + "px", top: "35px", width: "300px" }, DISEASES[0]);
  el("div", "hdr", { left: (597 + ox - 150) + "px", top: "51px", width: "300px" }, DISEASES[1]);
  el("div", "hdr", { left: (822 + ox - 150) + "px", top: "51px", width: "300px" }, DISEASES[2]);
});

// one row per region, three small charts per row
REGIONS.forEach((name, k) => {
  const t = k < ROWS_PER_TABLE ? 0 : 1;
  const r = t === 0 ? k : k - ROWS_PER_TABLE;
  const ox = t * TABLE_SHIFT;
  const rowTop = ROW_TOP0 + ROW_H * r;
  const cTop = Math.round(rowTop) + 1;
  el("div", "region", { left: (23 + ox) + "px", top: Math.round(rowTop + 57) + "px" }, name);

  const ax = AXIS_X.map(a => a + ox);
  seasonChart(ax[0] - 6, cTop, k);
  bandChart(ax[1] - 6, cTop, DIAR_SERIES[k], DIAR_NOW[k], DIAR_EST[k], DIAR_LEVEL[k], DIAR_TOP[k], 8);
  bandChart(ax[2] - 6, cTop, POX_SERIES[k], POX_NOW[k], POX_EST[k], POX_LEVEL[k], POX_TOP[k], 2);

  valueLabel(ax[0], rowTop, ARI_EST[k], ARI_LOW[k], ARI_HIGH[k], ARI_LEVEL[k]);
  valueLabel(ax[1], rowTop, DIAR_EST[k], DIAR_LOW[k], DIAR_HIGH[k], DIAR_LEVEL[k]);
  valueLabel(ax[2], rowTop, POX_EST[k], POX_LOW[k], POX_HIGH[k], POX_LEVEL[k]);
});

// source note and activity legend
el("div", "note", { left: "1039px", top: "978px" }, "Data sources : Sentinelles Network and EMR (Electronic Medical Records) IQVIA");
el("div", "legTitle", { left: "1720px", top: "1012px" }, "Activity levels");
el("div", "legBox", { left: "1719px", top: "1062px", background: LEVEL_COLORS.low });
el("div", "legItem", { left: "1766px", top: "1049px", color: LEVEL_COLORS.low }, "Low activity");
el("div", "legBox", { left: "1719px", top: "1097px", background: LEVEL_COLORS.moderate });
el("div", "legItem", { left: "1766px", top: "1085px", color: LEVEL_COLORS.moderate }, "Moderate activity");
</script>
</body>
</html>
